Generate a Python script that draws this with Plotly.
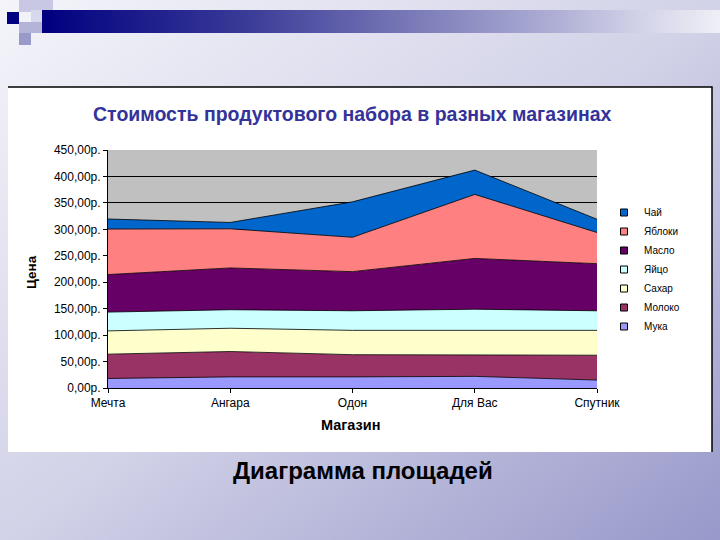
import numpy as np
import plotly.graph_objects as go

# ---- data ----
shops = ["Мечта", "Ангара", "Одон", "Для Вас", "Спутник"]
series_names = ["Мука", "Молоко", "Сахар", "Яйцо", "Масло", "Яблоки", "Чай"]
muka = [18, 21, 21, 22, 15]
moloko = [46, 48, 42, 41, 47]
sahar = [44, 44, 46, 46, 47]
yaico = [35.5, 35, 37, 40, 37]
maslo = [71, 79, 74, 96, 89]
yabloki = [86, 74, 65, 121, 59]
chai = [19, 12, 67, 46, 25]
series_values = [muka, moloko, sahar, yaico, maslo, yabloki, chai]
series_colors = ["#9999FF", "#993366", "#FFFFCC", "#CCFFFF", "#660066", "#FF8080", "#0066CC"]
y_ticks = [0, 50, 100, 150, 200, 250, 300, 350, 400, 450]
y_ticktext = [f"{v:.2f}".replace(".", ",") + "р." for v in y_ticks]

FONT = "Arial, Liberation Sans, sans-serif"
W, H = 720, 540

fig = go.Figure()

# ---- slide background (pixel coordinate axes x/y) ----
gx = np.linspace(0, W, 25)
gy = np.linspace(0, H, 19)
gz = [[xx / W + yy / H for xx in gx] for yy in gy]
fig.add_trace(go.Heatmap(
    x=gx, y=gy, z=gz, zmin=0, zmax=2, zsmooth="best", showscale=False,
    colorscale=[[0, "#F4F4FA"], [0.5, "#D2D2E8"], [1, "#9898CA"]],
    hoverinfo="skip", xaxis="x", yaxis="y"))

# top banner gradient (x, y given as cell edges)
NB = 170
bx = np.linspace(40, W, NB + 1)
bz = [list(range(NB)), list(range(NB))]
fig.add_trace(go.Heatmap(
    x=bx, y=[10, 21.5, 33], z=bz, showscale=False,
    colorscale=[[0, "#000080"], [0.3, "#3A3A98"], [0.55, "#7A7AB8"],
                [0.75, "#ACACD4"], [0.9, "#D6D6EA"], [1, "#EEEEF6"]],
    hoverinfo="skip", xaxis="x", yaxis="y"))

# white chart box
fig.add_trace(go.Scatter(
    x=[8, 712, 712, 8, 8], y=[87, 87, 452, 452, 87], fill="toself",
    fillcolor="white", line=dict(width=0), mode="lines",
    hoverinfo="skip", showlegend=False, xaxis="x", yaxis="y"))
fig.add_trace(go.Scatter(
    x=[8, 712, 712], y=[87, 87, 452], mode="lines",
    line=dict(color="black", width=1.5),
    hoverinfo="skip", showlegend=False, xaxis="x", yaxis="y"))

# decorative squares (top-left)
squares = [
    (7, 12, 19, 24, "#000080"),
    (19, 0, 31, 12, "#C8C8E4"),
    (31, 0, 53, 10, "#C8C8E4"),
    (31, 10, 42, 22, "#D8D8EC"),
    (19, 22, 42, 33, "#B4B4D8"),
    (19, 33, 31, 45, "#9A9ACA"),
]
shapes = []
for x0, y0, x1, y1, c in squares:
    shapes.append(dict(type="rect", xref="x", yref="y", x0=x0, y0=y0, x1=x1, y1=y1,
                       fillcolor=c, line=dict(width=0), layer="above"))

# ---- main chart (x2/y2) ----
for name, vals, col in zip(series_names, series_values, series_colors):
    fig.add_trace(go.Scatter(
        x=shops, y=vals, name=name, stackgroup="one", mode="lines",
        fillcolor=col, line=dict(color="black", width=0.8),
        showlegend=False, xaxis="x2", yaxis="y2"))

# legend entries (square markers)
for name, col in reversed(list(zip(series_names, series_colors))):
    fig.add_trace(go.Scatter(
        x=[shops[0]], y=[None], name=name, mode="markers",
        marker=dict(symbol="square", size=7, color=col, line=dict(color="black", width=1)),
        xaxis="x2", yaxis="y2", hoverinfo="skip"))

x0p, x1p = 108 / W, 597 / W
y0p, y1p = 1 - 388 / H, 1 - 150 / H

annotations = [
    dict(text="<b>Стоимость продуктового набора в разных магазинах</b>", x=352 / W, y=1 - 114 / H,
         xref="paper", yref="paper", showarrow=False, xanchor="center", yanchor="middle",
         font=dict(family=FONT, size=19.5, color="#333399")),
    dict(text="<b>Цена</b>", x=31 / W, y=1 - 272 / H, xref="paper", yref="paper",
         showarrow=False, textangle=-90, xanchor="center", yanchor="middle",
         font=dict(family=FONT, size=13.5, color="black")),
    dict(text="<b>Магазин</b>", x=350 / W, y=1 - 425 / H, xref="paper", yref="paper",
         showarrow=False, xanchor="center", yanchor="middle",
         font=dict(family=FONT, size=14.5, color="black")),
    dict(text="<b>Диаграмма площадей</b>", x=363 / W, y=1 - 470 / H, xref="paper", yref="paper",
         showarrow=False, xanchor="center", yanchor="middle",
         font=dict(family=FONT, size=24, color="black")),
]

fig.update_layout(
    width=W, height=H, margin=dict(l=0, r=0, t=0, b=0, pad=0, autoexpand=False),
    paper_bgcolor="white", plot_bgcolor="#C0C0C0",
    xaxis=dict(domain=[0, 1], range=[0, W], visible=False, fixedrange=True),
    yaxis=dict(domain=[0, 1], range=[H, 0], visible=False, fixedrange=True),
    xaxis2=dict(domain=[x0p, x1p], anchor="y2", type="category", range=[0, 4],
                showline=True, linecolor="black", linewidth=1, showgrid=False,
                ticks="outside", ticklen=4, tickcolor="black", automargin=False,
                tickfont=dict(family=FONT, size=12, color="black")),
    yaxis2=dict(domain=[y0p, y1p], anchor="x2", range=[0, 450],
                tickvals=y_ticks, ticktext=y_ticktext, automargin=False,
                showline=True, linecolor="black", linewidth=1,
                showgrid=True, gridcolor="black", gridwidth=1, zeroline=False,
                ticks="outside", ticklen=4, tickcolor="black",
                tickfont=dict(family=FONT, size=12, color="black")),
    legend=dict(x=604 / W, y=1 - 198 / H, xanchor="left", yanchor="top",
                bgcolor="rgba(0,0,0,0)", traceorder="normal", tracegroupgap=0,
                font=dict(family=FONT, size=10, color="black"), itemwidth=30),
    annotations=annotations, shapes=shapes, showlegend=True,
)

fig.write_html("out.html", config={"displayModeBar": False},
               post_script="document.body.style.margin='0px';")
